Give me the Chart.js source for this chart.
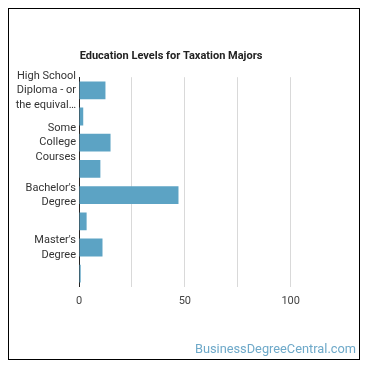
<!DOCTYPE html>
<html>
<head>
<meta charset="utf-8">
<script src="https://cdn.jsdelivr.net/npm/chart.js@4"></script>
<style>
  html, body { margin: 0; padding: 0; background: #fff; }
  #box {
    position: absolute; left: 8px; top: 8px;
    width: 350px; height: 350px;
    border: 1px solid #000;
  }
  #wrap { position: absolute; left: 0; top: 0; width: 350px; height: 350px; }
  #brand {
    position: absolute; right: 3px; bottom: 3px;
    font-family: Roboto, sans-serif; font-size: 12.8px;
    color: #6ea9c9;
  }
</style>
</head>
<body>
<div id="box">
  <div id="wrap"><canvas id="edu-chart"></canvas></div>
  <div id="brand">BusinessDegreeCentral.com</div>
</div>
<script>
const categories = [
  "High School Diploma - or the equivalent (for example, GED)",
  "Post-Secondary Certificate",
  "Some College Courses",
  "Associate's Degree",
  "Bachelor's Degree",
  "Post-Baccalaureate Certificate",
  "Master's Degree",
  "Doctoral Degree"
];
const tickLabels = [
  ["High School", "Diploma - or", "the equival\u2026"], "",
  ["Some", "College", "Courses"], "",
  ["Bachelor's", "Degree"], "",
  ["Master's", "Degree"], ""
];
const percents = [12.5, 2.0, 14.9, 10.1, 47.0, 3.6, 11.1, 0.8];
const xTicks = [0, 25, 50, 75, 100];
const xLabels = ["0", "", "50", "", "100"];

const ctx = document.getElementById("edu-chart").getContext("2d");
window.eduChart = new Chart(ctx, {
  type: 'bar',
  data: {
    labels: categories,
    datasets: [{
      label: 'Percent',
      data: percents,
      backgroundColor: 'rgb(92, 163, 196)',
      borderWidth: 0,
      categoryPercentage: 1,
      barPercentage: 0.68
    }]
  },
  options: {
    indexAxis: 'y',
    responsive: true,
    maintainAspectRatio: false,
    animation: false,
    layout: { padding: { left: 0, right: 26, top: 0, bottom: 43 } },
    plugins: {
      legend: { display: false },
      tooltip: { enabled: false },
      title: {
        display: true,
        text: 'Education Levels for Taxation Majors',
        color: '#222',
        font: { family: 'Roboto', size: 11, weight: 'bold' },
        padding: { top: 41, bottom: 14 }
      }
    },
    scales: {
      x: {
        min: 0,
        max: 120,
        afterBuildTicks: (scale) => {
          scale.ticks = xTicks.map(v => ({ value: v }));
        },
        ticks: {
          autoSkip: false,
          maxRotation: 0,
          padding: 8,
          color: '#444',
          font: { family: 'Roboto', size: 11 },
          callback: (value, i) => xLabels[i]
        },
        grid: { color: '#d9d9d9', drawTicks: false },
        border: { display: false }
      },
      y: {
        afterFit: (scale) => { scale.width = 70; },
        ticks: {
          autoSkip: false,
          crossAlign: 'near',
          padding: 3,
          color: '#333',
          font: { family: 'Roboto', size: 11, lineHeight: 1.32 },
          callback: (value, i) => tickLabels[i]
        },
        grid: { display: false, drawTicks: false },
        border: { display: true, color: '#222', width: 1 }
      }
    }
  }
});
</script>
</body>
</html>
